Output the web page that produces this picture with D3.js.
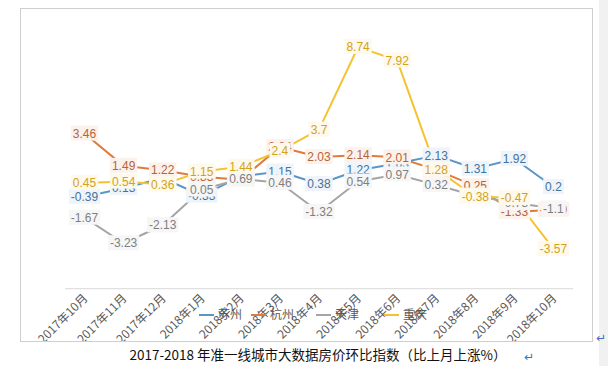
<!DOCTYPE html>
<html>
<head>
<meta charset="utf-8">
<script src="https://cdnjs.cloudflare.com/ajax/libs/d3/7.8.5/d3.min.js"></script>
<style>
  body { margin: 0; background: #fff; }
  svg { display: block; }
</style>
</head>
<body>
<div id="chart"></div>
<script>
// months on the category axis
let months = ["2017年10月", "2017年11月", "2017年12月", "2018年1月", "2018年2月", "2018年3月",
              "2018年4月", "2018年5月", "2018年6月", "2018年7月", "2018年8月", "2018年9月", "2018年10月"];
let cities = ["苏州", "杭州", "天津", "重庆"];

// month-on-month index values
let suzhou    = [-0.39, 0.13, 0.75, -0.33, 0.85, 1.15, 0.38, 1.22, 1.63, 2.13, 1.31, 1.92, 0.2];
let hangzhou  = [3.46, 1.49, 1.22, 0.83, 0.65, 2.64, 2.03, 2.14, 2.01, 1.25, 0.25, -1.33, -1.19];
let tianjin   = [-1.67, -3.23, -2.13, 0.05, 0.69, 0.46, -1.32, 0.54, 0.97, 0.32, -0.33, -0.78, -1.1];
let chongqing = [0.45, 0.54, 0.36, 1.15, 1.44, 2.4, 3.7, 8.74, 7.92, 1.28, -0.38, -0.47, -3.57];

let title = "2017-2018 年准一线城市大数据房价环比指数（比上月上涨%）";

let width = 608;
let height = 366;
let lineColors  = ["#5b96c8", "#e07b3c", "#a5a5a5", "#f5c232"];
let labelColors = ["#44729f", "#b5643a", "#7f7f7f", "#d1a21e"];

let series = [suzhou, hangzhou, tianjin, chongqing].map(function (vals, i) {
    return { name: cities[i], values: vals, line: lineColors[i], label: labelColors[i] };
});

let svg = d3.select("#chart").append("svg").attr("width", width).attr("height", height);

// page strip on the right and the chart frame
svg.append("rect").attr("x", 599).attr("y", 0).attr("width", 9).attr("height", height).attr("fill", "#f1f1f1");
svg.append("rect").attr("x", 20.5).attr("y", 8.5).attr("width", 572).attr("height", 333)
    .attr("fill", "#fff").attr("stroke", "#cfcfcf");

let xScale = d3.scaleBand().domain(months).range([65, 573]);
let yScale = d3.scaleLinear().domain([-6, 10]).range([288.7, 26.3]);
let cx = function (i) { return xScale(months[i]) + xScale.bandwidth() / 2; };

// category axis line at the bottom of the plot area
svg.append("line").attr("x1", 65).attr("x2", 573)
    .attr("y1", yScale(-6)).attr("y2", yScale(-6))
    .attr("stroke", "#d9d9d9").attr("stroke-width", 1);

// rotated month labels, clipped by the frame
svg.append("clipPath").attr("id", "frameClip")
    .append("rect").attr("x", 21).attr("y", 9).attr("width", 571).attr("height", 332);

svg.append("g").attr("clip-path", "url(#frameClip)")
    .selectAll("text")
    .data(months)
    .enter().append("text")
    .attr("transform", function (d) { return `translate(${xScale(d) + xScale.bandwidth() / 2 + 4}, 299) rotate(-45)`; })
    .attr("text-anchor", "end")
    .style("font-family", "'Noto Sans CJK SC', sans-serif")
    .style("font-size", "12px")
    .style("fill", "#595959")
    .text(function (d) { return d; });

// lines
let line = d3.line()
    .x(function (d, i) { return cx(i); })
    .y(function (d) { return yScale(d); });

svg.selectAll(".series")
    .data(series)
    .enter().append("path")
    .attr("d", function (d) { return line(d.values); })
    .attr("fill", "none")
    .attr("stroke", function (d) { return d.line; })
    .attr("stroke-width", 2)
    .attr("stroke-linejoin", "round");

// data labels centred on the points, with a pale halo box
series.forEach(function (s) {
    let g = svg.append("g");
    s.values.forEach(function (v, i) {
        let lab = g.append("g").attr("transform", `translate(${cx(i)}, ${yScale(v)})`);
        let bg = lab.append("rect").attr("fill", "#fff");
        let tint = lab.append("rect").attr("fill", s.line).attr("opacity", 0.1);
        let t = lab.append("text")
            .attr("text-anchor", "middle")
            .attr("dy", "0.35em")
            .style("font-family", "'Liberation Sans', Arial, sans-serif")
            .style("font-size", "12px")
            .style("fill", s.label)
            .text(v);
        let w = t.node().getComputedTextLength() + 4;
        bg.attr("x", -w / 2).attr("y", -8).attr("width", w).attr("height", 15);
        tint.attr("x", -w / 2).attr("y", -8).attr("width", w).attr("height", 15);
    });
});

// legend sitting on top of the axis labels
let legendX = [199, 251, 316, 384];
let legend = svg.append("g");
series.forEach(function (s, i) {
    legend.append("line")
        .attr("x1", legendX[i]).attr("x2", legendX[i] + 15)
        .attr("y1", 315).attr("y2", 315)
        .attr("stroke", s.line).attr("stroke-width", 2);
    legend.append("text")
        .attr("x", legendX[i] + 19).attr("y", 315).attr("dy", "0.35em")
        .style("font-family", "'Noto Sans CJK SC', sans-serif")
        .style("font-size", "12px")
        .style("fill", "#595959")
        .text(s.name);
});

// caption under the chart
svg.append("text")
    .attr("x", 318).attr("y", 360)
    .attr("text-anchor", "middle")
    .style("font-family", "'Noto Sans CJK SC', sans-serif")
    .style("font-size", "13.5px")
    .style("fill", "#111")
    .text(title);

// word processor paragraph marks
svg.append("text").attr("x", 524).attr("y", 361)
    .style("font-family", "'DejaVu Sans', sans-serif").style("font-size", "12px")
    .style("fill", "#3a6fc4").text("↵");
svg.append("text").attr("x", 596).attr("y", 342)
    .style("font-family", "'DejaVu Sans', sans-serif").style("font-size", "12px")
    .style("fill", "#3a6fc4").text("↵");
</script>
</body>
</html>
